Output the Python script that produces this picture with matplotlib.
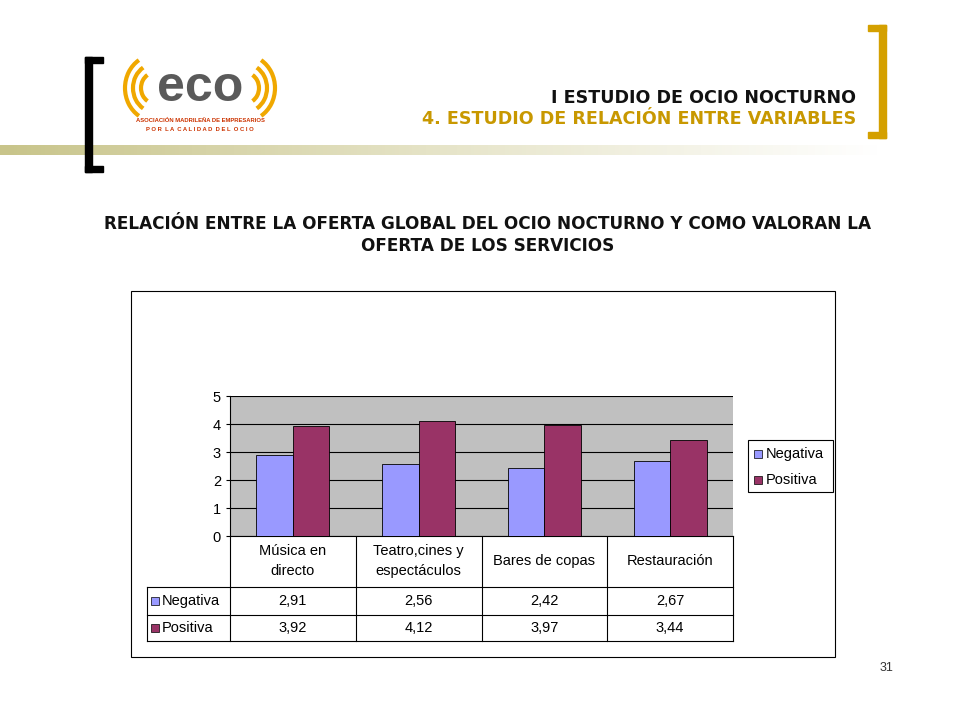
import matplotlib
matplotlib.use("Agg")
import matplotlib.pyplot as plt
from matplotlib.patches import Rectangle, Arc
from matplotlib.colors import LinearSegmentedColormap
import numpy as np

plt.rcParams["font.family"] = "Liberation Sans"

categories = ["Música en\ndirecto", "Teatro,cines y\nespectáculos", "Bares de copas", "Restauración"]
series_names = ["Negativa", "Positiva"]
negativa = [2.91, 2.56, 2.42, 2.67]
positiva = [3.92, 4.12, 3.97, 3.44]
neg_labels = ["2,91", "2,56", "2,42", "2,67"]
pos_labels = ["3,92", "4,12", "3,97", "3,44"]
yticks = [0, 1, 2, 3, 4, 5]

W, H = 960, 720
fig = plt.figure(figsize=(9.6, 7.2), dpi=100)
bg = fig.add_axes([0, 0, 1, 1])
bg.set_xlim(0, W); bg.set_ylim(H, 0); bg.axis("off")

def ax_px(x0, y0, x1, y1):
    return fig.add_axes([x0 / W, 1 - y1 / H, (x1 - x0) / W, (y1 - y0) / H])

grad = np.linspace(0, 1, 256)[None, :]
cm = LinearSegmentedColormap.from_list("g", ["#c8c48a", "#e6e4c8", "#ffffff"])
bg.imshow(grad, cmap=cm, extent=[0, 880, 155, 145], aspect="auto", zorder=1)
k = "#000000"
bg.add_patch(Rectangle((85, 57), 7, 115, color=k, zorder=3))
bg.add_patch(Rectangle((85, 57), 18, 6, color=k, zorder=3))
bg.add_patch(Rectangle((85, 166), 18, 6, color=k, zorder=3))
g = "#d4a000"
bg.add_patch(Rectangle((879, 25), 7, 113, color=g, zorder=3))
bg.add_patch(Rectangle((868, 25), 18, 6, color=g, zorder=3))
bg.add_patch(Rectangle((868, 132), 18, 6, color=g, zorder=3))
for r in [14, 22, 30]:
    bg.add_patch(Arc((155, 88), 2 * r, 2 * r * 1.1, theta1=120, theta2=240, color="#f0a800", lw=3))
    bg.add_patch(Arc((245, 88), 2 * r, 2 * r * 1.1, theta1=-60, theta2=60, color="#f0a800", lw=3))
bg.text(200, 88, "eco", fontsize=36, color="#5a5a5a", ha="center", va="center", fontweight="bold")
bg.text(200, 122, "ASOCIACIÓN MADRILEÑA DE EMPRESARIOS", fontsize=4.2, color="#cc3300", ha="center", fontweight="bold")
bg.text(200, 131, "P O R  L A  C A L I D A D  D E L  O C I O", fontsize=4.2, color="#cc3300", ha="center", fontweight="bold")
tf = "DejaVu Sans"
bg.text(856, 98, "I ESTUDIO DE OCIO NOCTURNO", fontsize=12.6, fontweight="bold", ha="right", va="center", color="#111111", family=tf)
bg.text(856, 119, "4. ESTUDIO DE RELACIÓN ENTRE VARIABLES", fontsize=12.6, fontweight="bold", ha="right", va="center", color="#c89800", family=tf)
bg.text(488, 235, "RELACIÓN ENTRE LA OFERTA GLOBAL DEL OCIO NOCTURNO Y COMO VALORAN LA\nOFERTA DE LOS SERVICIOS",
        fontsize=12.2, fontweight="bold", ha="center", va="center", linespacing=1.25, color="#111111", family=tf)
bg.text(886, 668, "31", fontsize=9, ha="center", va="center", color="#333333")
bg.add_patch(Rectangle((131, 291), 704, 366, fill=False, ec="#000000", lw=0.8))

ax = ax_px(230, 396, 733, 536)
ax.set_facecolor("#c0c0c0")
x = np.arange(len(categories))
w = 0.29
ax.bar(x - w / 2, negativa, w, color="#9999ff", edgecolor="black", lw=0.6, zorder=3)
ax.bar(x + w / 2, positiva, w, color="#993366", edgecolor="black", lw=0.6, zorder=3)
ax.set_xlim(-0.5, 3.5); ax.set_ylim(0, 5)
ax.set_yticks(yticks)
ax.grid(axis="y", color="black", lw=0.8, zorder=1)
ax.set_xticks([])
ax.tick_params(axis="y", labelsize=10.5, length=3)
for s in ["top", "right"]:
    ax.spines[s].set_visible(False)

col_x = [230 + i * (503 / 4) for i in range(5)]
rows = [536, 587, 615, 641]
for y in rows[1:]:
    bg.plot([147, 733], [y, y], color="black", lw=0.8)
for cx in col_x:
    bg.plot([cx, cx], [536, 641], color="black", lw=0.8)
bg.plot([147, 147], [587, 641], color="black", lw=0.8)
for i, c in enumerate(categories):
    cx = (col_x[i] + col_x[i + 1]) / 2
    bg.text(cx, 561, c, ha="center", va="center", fontsize=10.5, linespacing=1.6)
    bg.text(cx, 601, neg_labels[i], ha="center", va="center", fontsize=10.5)
    bg.text(cx, 628, pos_labels[i], ha="center", va="center", fontsize=10.5)
for y, name, col in [(601, series_names[0], "#9999ff"), (628, series_names[1], "#993366")]:
    bg.add_patch(Rectangle((151, y - 4), 8, 8, fc=col, ec="black", lw=0.5))
    bg.text(162, y, name, va="center", fontsize=10.5)
bg.add_patch(Rectangle((748, 440), 85, 52, fill=False, ec="black", lw=0.8))
for y, name, col in [(454, series_names[0], "#9999ff"), (480, series_names[1], "#993366")]:
    bg.add_patch(Rectangle((754, y - 4), 8, 8, fc=col, ec="black", lw=0.5))
    bg.text(766, y, name, va="center", fontsize=10.5)

fig.savefig("out.png", dpi=100)
